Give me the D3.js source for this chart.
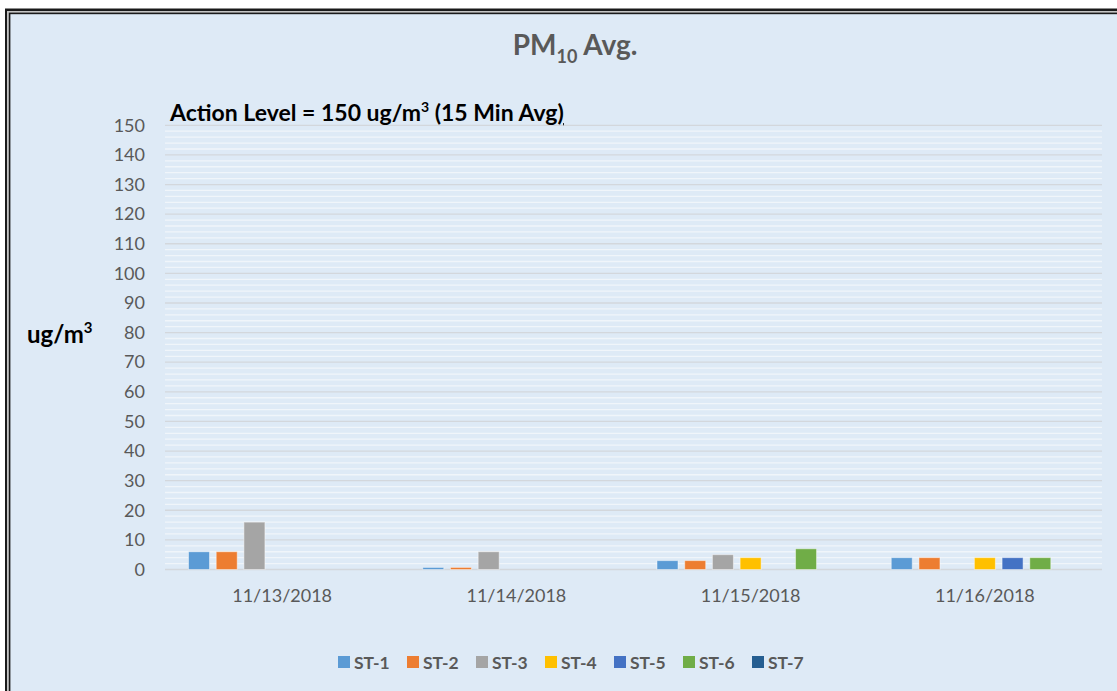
<!DOCTYPE html>
<html>
<head>
<meta charset="utf-8">
<script src="https://cdn.jsdelivr.net/npm/d3@7"></script>
<style>
  body { margin: 0; background: #fff; }
  svg { display: block; }
  text { font-family: Lato, "Open Sans", sans-serif; }
</style>
</head>
<body>
<div id="chart"></div>
<script>
const dates = ['11/13/2018', '11/14/2018', '11/15/2018', '11/16/2018'];
const stations = ['ST-1', 'ST-2', 'ST-3', 'ST-4', 'ST-5', 'ST-6', 'ST-7'];

// PM10 values per station, one per date
const st1 = [6, 0.7, 3, 4];
const st2 = [6, 0.7, 3, 4];
const st3 = [16, 6, 5, 0];
const st4 = [0, 0, 4, 4];
const st5 = [0, 0, 0, 4];
const st6 = [0, 0, 7, 4];
const st7 = [0, 0, 0, 0];

const yTicks = d3.range(0, 151, 10);
const yMinor = d3.range(0, 151, 2);

const palette = ['#5b9bd5', '#ed7d31', '#a5a5a5', '#ffc000', '#4472c4', '#70ad47', '#255e91'];

const seriesValues = [st1, st2, st3, st4, st5, st6, st7];
const rows = [];
dates.forEach((d, i) => {
  stations.forEach((s, j) => rows.push({ date: d, station: s, value: seriesValues[j][i] }));
});

const width = 1117,
  height = 691;
const bg = '#deeaf6';

const svg = d3.select('#chart').append('svg').attr('width', width).attr('height', height);

// double frame
svg.append('rect').attr('x', 5).attr('y', 8.5).attr('width', width).attr('height', height).attr('fill', '#1a1a1a');
svg.append('rect').attr('x', 7).attr('y', 11).attr('width', width).attr('height', height).attr('fill', '#c4c4c4');
svg.append('rect').attr('x', 8.8).attr('y', 12.6).attr('width', width).attr('height', height).attr('fill', '#1a1a1a');
svg.append('rect').attr('x', 10.4).attr('y', 14.2).attr('width', width).attr('height', height).attr('fill', bg);

const plot = { left: 165, right: 1102, top: 125.3, bottom: 569.5 };

const x0 = d3.scaleBand().domain(dates).range([plot.left, plot.right]);
const gapOuter = 23.5;
const x1 = d3
  .scaleBand()
  .domain(stations)
  .range([gapOuter, x0.bandwidth() - gapOuter])
  .paddingInner(0.242);
const y = d3.scaleLinear().domain([0, 150]).range([plot.bottom, plot.top]);
const color = d3.scaleOrdinal().domain(stations).range(palette);

// minor grid
svg
  .append('g')
  .selectAll('line')
  .data(yMinor.filter(v => v % 10 !== 0))
  .join('line')
  .attr('x1', plot.left)
  .attr('x2', plot.right)
  .attr('y1', d => y(d))
  .attr('y2', d => y(d))
  .attr('stroke', '#f0f5fa')
  .attr('stroke-width', 1.3);

// major grid
svg
  .append('g')
  .selectAll('line')
  .data(yTicks)
  .join('line')
  .attr('x1', plot.left)
  .attr('x2', plot.right)
  .attr('y1', d => y(d))
  .attr('y2', d => y(d))
  .attr('stroke', '#d3d7dc')
  .attr('stroke-width', d => (d === 0 ? 1.6 : 1.3));

// y axis labels
const yAxis = svg
  .append('g')
  .attr('transform', `translate(${plot.left - 20},0)`)
  .call(d3.axisLeft(y).tickValues(yTicks).tickSize(0).tickPadding(0));
yAxis.select('.domain').remove();
yAxis
  .selectAll('text')
  .attr('font-family', 'Lato, sans-serif')
  .attr('font-size', 18)
  .attr('fill', '#595959');

// x axis labels
const xAxis = svg
  .append('g')
  .attr('transform', `translate(0,${plot.bottom})`)
  .call(d3.axisBottom(x0).tickSize(0).tickPadding(20));
xAxis.select('.domain').remove();
xAxis
  .selectAll('text')
  .attr('font-family', 'Lato, sans-serif')
  .attr('font-size', 18)
  .attr('fill', '#595959');

// bars
svg
  .append('g')
  .selectAll('rect')
  .data(rows.filter(d => d.value > 0))
  .join('rect')
  .attr('x', d => x0(d.date) + x1(d.station))
  .attr('width', x1.bandwidth())
  .attr('y', d => y(d.value))
  .attr('height', d => y(0) - y(d.value))
  .attr('fill', d => color(d.station))
  .attr('stroke', '#ffffff')
  .attr('stroke-opacity', 0.45)
  .attr('stroke-width', 1);

// title
const title = svg
  .append('text')
  .attr('x', 575)
  .attr('y', 55)
  .attr('text-anchor', 'middle')
  .attr('font-weight', 'bold')
  .attr('font-size', 28)
  .attr('fill', '#595959');
title.append('tspan').text('PM');
title.append('tspan').attr('font-size', 18).attr('dy', 8).text('10');
title.append('tspan').attr('dy', -8).text(' Avg.');

// action level note
const note = svg
  .append('text')
  .attr('x', 170)
  .attr('y', 121)
  .attr('font-weight', 'bold')
  .attr('font-size', 23)
  .attr('fill', '#000');
note.append('tspan').text('Action Level = 150 ug/m');
note.append('tspan').attr('font-size', 14).attr('dy', -9).text('3');
note.append('tspan').attr('dy', 9).text(' (15 Min Avg');
note.append('tspan').attr('text-decoration', 'underline').text(')');

// y unit label
const unit = svg
  .append('text')
  .attr('x', 27)
  .attr('y', 343)
  .attr('font-weight', 'bold')
  .attr('font-size', 24)
  .attr('fill', '#000');
unit.append('tspan').text('ug/m');
unit.append('tspan').attr('font-size', 15).attr('dy', -10).text('3');

// legend
const legend = svg
  .append('g')
  .attr('transform', 'translate(338,662)')
  .selectAll('g')
  .data(stations)
  .join('g')
  .attr('transform', (d, i) => `translate(${i * 69},0)`);
legend
  .append('rect')
  .attr('x', 0)
  .attr('y', -6)
  .attr('width', 12)
  .attr('height', 12)
  .attr('fill', d => color(d));
legend
  .append('text')
  .attr('x', 16)
  .attr('y', 6.5)
  .attr('font-weight', 'bold')
  .attr('font-size', 17.5)
  .attr('fill', '#595959')
  .text(d => d);
</script>
</body>
</html>
